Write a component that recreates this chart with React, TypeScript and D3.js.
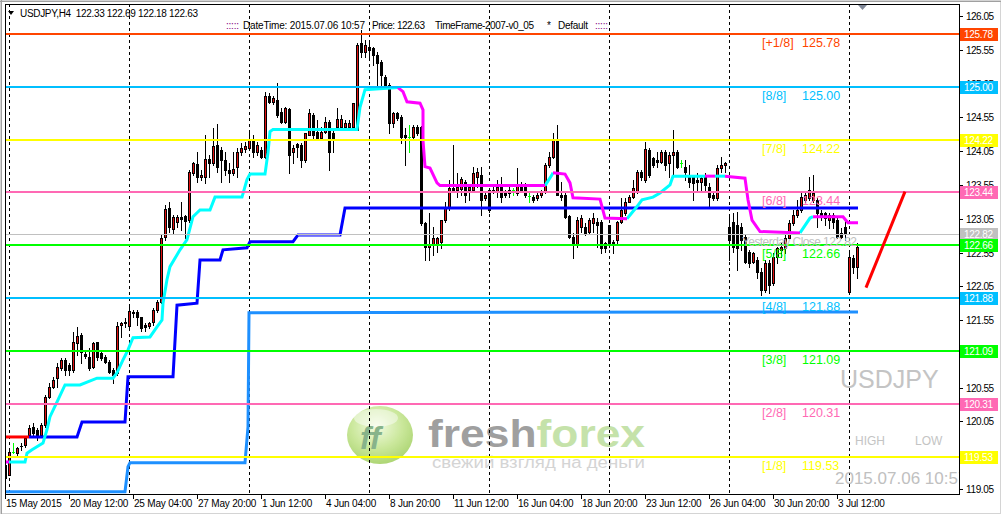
import React from "react";
import * as d3 from "d3";

// USDJPY H4, bar 0 = 15 May 2015 20:00, bar 213 = 6 Jul 2015 08:00
// [open, high, low, close]
const bars: [number, number, number, number][] = [
  [119.41, 119.48, 119.19, 119.22], [119.26, 119.66, 119.25, 119.6], [119.6, 119.73, 119.58, 119.6], [119.59, 119.67, 119.53, 119.66],
  [119.68, 119.73, 119.63, 119.69], [119.7, 119.82, 119.67, 119.81], [119.85, 119.99, 119.82, 119.95], [119.97, 120.03, 119.85, 119.88],
  [119.93, 119.96, 119.78, 119.85], [119.85, 120.03, 119.82, 119.99], [119.99, 120.44, 119.97, 120.41], [120.41, 120.62, 120.4, 120.56],
  [120.56, 120.71, 120.55, 120.67], [120.7, 120.92, 120.56, 120.86], [120.84, 120.99, 120.81, 120.96], [120.96, 120.99, 120.74, 120.81],
  [120.89, 120.92, 120.74, 120.81], [120.81, 121.38, 120.78, 121.23], [121.21, 121.45, 121.03, 121.32], [121.33, 121.36, 120.92, 121.08],
  [121.05, 121.11, 120.99, 121.02], [121.01, 121.14, 120.81, 120.84], [120.86, 121.23, 120.84, 121.21], [121.23, 121.23, 120.96, 121.01],
  [121.07, 121.11, 120.96, 120.99], [121.01, 121.04, 120.92, 120.93], [120.93, 120.96, 120.77, 120.78], [120.81, 120.84, 120.62, 120.74],
  [120.77, 121.52, 120.74, 121.46], [121.48, 121.52, 121.3, 121.51], [121.51, 121.58, 121.45, 121.52], [121.46, 121.75, 121.45, 121.69],
  [121.67, 121.7, 121.6, 121.65], [121.67, 121.7, 121.48, 121.6], [121.6, 121.6, 121.39, 121.43], [121.48, 121.51, 121.39, 121.45],
  [121.46, 121.52, 121.43, 121.51], [121.52, 121.73, 121.48, 121.7], [121.7, 121.85, 121.67, 121.82], [121.82, 122.81, 121.81, 122.77],
  [122.78, 123.26, 122.74, 123.2], [123.21, 123.3, 122.86, 122.92], [122.9, 123.11, 122.84, 123.08], [123.0, 123.11, 122.93, 123.08],
  [123.08, 123.29, 122.89, 123.04], [123.09, 123.11, 122.77, 123.02], [123.03, 123.77, 123.0, 123.74], [123.73, 123.89, 123.7, 123.88],
  [123.86, 124.04, 123.6, 123.66], [123.66, 123.77, 123.63, 123.69], [123.66, 124.29, 123.58, 123.94], [123.94, 123.99, 123.67, 123.88],
  [123.88, 124.39, 123.85, 124.13], [124.14, 124.45, 123.74, 123.82], [124.07, 124.11, 123.6, 123.92], [123.92, 124.03, 123.7, 123.77],
  [123.77, 123.88, 123.6, 123.73], [123.72, 124.03, 123.7, 123.78], [123.82, 124.1, 123.66, 124.03], [124.03, 124.17, 124.0, 124.1],
  [124.08, 124.19, 124.04, 124.13], [124.1, 124.37, 124.07, 124.22], [124.22, 124.29, 123.97, 124.03], [124.04, 124.19, 124.0, 124.14],
  [124.07, 124.11, 123.95, 123.97], [123.97, 124.93, 123.95, 124.87], [124.87, 124.91, 124.76, 124.78], [124.78, 124.87, 124.75, 124.84],
  [124.81, 125.06, 124.56, 124.59], [124.63, 124.69, 124.47, 124.48], [124.48, 124.71, 124.47, 124.69], [124.68, 124.69, 123.73, 123.99],
  [124.03, 124.14, 123.88, 124.1], [124.16, 124.17, 123.97, 124.11], [124.14, 124.17, 123.82, 123.92], [123.92, 124.32, 123.89, 124.32],
  [124.29, 124.68, 124.29, 124.62], [124.59, 124.62, 124.22, 124.29], [124.33, 124.51, 124.22, 124.25], [124.25, 124.41, 124.22, 124.33],
  [124.34, 124.56, 124.32, 124.48], [124.48, 124.51, 123.77, 124.04], [124.32, 124.37, 124.03, 124.25], [124.4, 124.69, 124.37, 124.53],
  [124.4, 124.59, 124.37, 124.53], [124.4, 124.51, 124.37, 124.47], [124.41, 124.51, 124.37, 124.47], [124.41, 124.76, 124.39, 124.76],
  [124.37, 125.65, 124.37, 125.62], [125.65, 125.84, 125.45, 125.51], [125.51, 125.7, 125.45, 125.62], [125.59, 125.7, 125.45, 125.55],
  [125.58, 125.59, 125.33, 125.48], [125.48, 125.51, 125.03, 125.36], [125.37, 125.4, 125.0, 125.18], [125.14, 125.18, 124.99, 125.0],
  [125.03, 125.06, 124.32, 124.47], [124.47, 124.63, 124.41, 124.62], [124.62, 124.63, 124.51, 124.54], [124.56, 124.59, 124.17, 124.26],
  [124.29, 124.39, 123.85, 124.26], [124.26, 124.44, 124.04, 124.26], [124.26, 124.44, 124.22, 124.4], [124.41, 124.44, 124.29, 124.32],
  [124.41, 124.42, 122.95, 122.99], [122.99, 123.0, 122.44, 122.63], [122.63, 123.14, 122.44, 122.67], [122.66, 122.93, 122.52, 122.77],
  [122.66, 122.78, 122.56, 122.77], [122.71, 123.03, 122.62, 123.03], [123.03, 123.29, 123.0, 123.23], [123.23, 123.63, 123.18, 123.51],
  [123.51, 124.14, 123.45, 123.48], [123.48, 123.73, 123.37, 123.52], [123.49, 123.66, 123.4, 123.64], [123.6, 123.63, 123.3, 123.4],
  [123.48, 123.54, 123.33, 123.52], [123.48, 123.82, 123.45, 123.73], [123.67, 123.8, 123.52, 123.74], [123.7, 123.82, 123.11, 123.33],
  [123.36, 123.43, 123.33, 123.4], [123.48, 123.51, 123.15, 123.18], [123.45, 123.55, 123.43, 123.48], [123.45, 123.63, 123.37, 123.52],
  [123.52, 123.66, 123.3, 123.37], [123.43, 123.48, 123.37, 123.4], [123.43, 123.52, 123.37, 123.48], [123.47, 123.5, 123.4, 123.47],
  [123.43, 123.8, 123.4, 123.55], [123.55, 123.6, 123.45, 123.48], [123.55, 123.58, 123.37, 123.4], [123.39, 123.45, 123.29, 123.39],
  [123.37, 123.4, 123.3, 123.33], [123.36, 123.43, 123.33, 123.4], [123.4, 123.48, 123.37, 123.45], [123.45, 123.88, 123.43, 123.85],
  [123.85, 124.03, 123.82, 123.97], [123.97, 124.32, 123.95, 124.22], [124.22, 124.44, 123.4, 123.4], [123.4, 123.6, 123.33, 123.37],
  [123.4, 123.43, 123.06, 123.08], [123.09, 123.11, 122.77, 122.78], [122.78, 122.84, 122.47, 122.66], [122.66, 123.08, 122.63, 123.03],
  [122.93, 123.11, 122.86, 123.06], [122.93, 122.99, 122.81, 122.84], [122.86, 123.06, 122.84, 123.03], [122.99, 123.14, 122.86, 123.06],
  [123.0, 123.06, 122.63, 122.96], [123.0, 123.03, 122.55, 122.62], [122.69, 122.71, 122.56, 122.62], [122.95, 122.96, 122.63, 122.66],
  [122.71, 122.74, 122.55, 122.69], [122.74, 123.02, 122.69, 123.0], [123.0, 123.36, 122.99, 123.18], [123.14, 123.36, 123.11, 123.3],
  [123.3, 123.4, 123.29, 123.37], [123.37, 123.63, 123.36, 123.51], [123.45, 123.77, 123.43, 123.74], [123.74, 123.77, 123.63, 123.66],
  [123.63, 124.19, 123.6, 124.08], [124.07, 124.1, 123.67, 123.7], [123.95, 123.97, 123.82, 123.85], [123.92, 124.03, 123.82, 123.89],
  [123.89, 124.07, 123.88, 124.04], [124.04, 124.07, 123.77, 123.85], [123.88, 124.03, 123.67, 124.0], [124.0, 124.37, 123.67, 124.04],
  [124.03, 124.07, 123.8, 123.82], [123.88, 123.92, 123.82, 123.88], [123.82, 123.92, 123.63, 123.74], [123.7, 123.85, 123.52, 123.6],
  [123.67, 123.7, 123.33, 123.58], [123.62, 123.73, 123.45, 123.6], [123.6, 123.7, 123.45, 123.65], [123.67, 123.73, 123.48, 123.55],
  [123.52, 123.58, 123.23, 123.37], [123.4, 123.45, 123.33, 123.36], [123.36, 123.85, 123.33, 123.8], [123.8, 123.97, 123.74, 123.85],
  [123.85, 123.89, 123.74, 123.88], [122.93, 123.08, 122.44, 122.74], [123.0, 123.14, 122.56, 122.63], [122.96, 123.15, 122.29, 122.62],
  [122.93, 122.99, 122.59, 122.74], [122.78, 122.81, 122.4, 122.41], [122.56, 122.59, 122.34, 122.4], [122.41, 122.56, 122.4, 122.55],
  [122.44, 122.49, 122.17, 122.26], [122.26, 122.32, 121.92, 122.0], [122.0, 122.44, 121.97, 122.4], [122.4, 122.44, 121.95, 122.07],
  [122.1, 122.55, 122.07, 122.49], [122.49, 122.63, 122.4, 122.62], [122.59, 122.69, 122.49, 122.63], [122.62, 122.81, 122.55, 122.77],
  [122.77, 123.03, 122.76, 122.99], [122.99, 123.18, 122.96, 123.11], [123.11, 123.33, 123.08, 123.18], [123.18, 123.43, 123.15, 123.37],
  [123.33, 123.43, 123.3, 123.4], [123.36, 123.67, 123.33, 123.48], [123.33, 123.7, 123.29, 123.43], [123.33, 123.36, 122.93, 123.14],
  [123.14, 123.18, 123.03, 123.08], [123.14, 123.15, 122.96, 123.06], [123.03, 123.14, 122.91, 123.11], [123.11, 123.14, 122.91, 123.0],
  [123.03, 123.06, 122.77, 122.78], [122.84, 122.91, 122.77, 122.78], [122.93, 123.03, 122.74, 122.82], [121.97, 122.59, 121.95, 122.49],
  [122.47, 122.51, 122.25, 122.33], [122.33, 122.69, 122.18, 122.63],
];

// Murrey math levels
const levelNames = ["[+1/8]", "[8/8]", "[7/8]", "[6/8]", "[5/8]", "[4/8]", "[3/8]", "[2/8]", "[1/8]"];
const levelValues = [125.78, 125.0, 124.22, 123.44, 122.66, 121.88, 121.09, 120.31, 119.53];
const levelColors = ["#FF4500", "#00BFFF", "#FFFF00", "#FF69B4", "#00FF00", "#00BFFF", "#00FF00", "#FF69B4", "#FFFF00"];
const yesterdayClose = 122.82;

// indicator lines as [bar, price]
const blueStop: [number, number][] = [
  [6, 119.82], [18, 119.82], [19.25, 120.04], [30, 120.04], [30.75, 120.71], [42, 120.71], [43, 121.77], [48, 121.8],
  [48.75, 122.44], [53.75, 122.44], [54.5, 122.59], [60.5, 122.62], [61.25, 122.71], [72, 122.71], [73.25, 122.81],
  [83.75, 122.81], [85, 123.21], [213.25, 123.21],
];
const redStop: [number, number][] = [[0, 119.82], [6, 119.82]];
const thinStop: [number, number][] = [[73.25, 122.81], [83.75, 122.81]];
const lowStop: [number, number][] = [
  [0, 119.01], [30, 119.01], [30.75, 119.38], [31.25, 119.44], [60, 119.44], [60.75, 119.97], [61, 121.66], [213.25, 121.67],
];
const trendUp: [number, number][][] = [
  [[1, 119.45], [5, 119.45], [5.5, 119.58], [6.75, 119.63], [9.5, 119.73], [10.5, 119.93], [11.25, 120.12], [13.25, 120.37],
   [15, 120.59], [18.75, 120.59], [23, 120.69], [27, 120.69], [28, 120.77], [29.5, 120.96], [30.75, 121.11], [32, 121.29],
   [36.25, 121.3], [38, 121.45], [39.25, 121.55], [39.5, 121.8], [40.5, 122.15], [41.25, 122.34], [43.75, 122.59],
   [45.5, 122.74], [47, 123.08], [48.75, 123.18], [51.25, 123.18], [52.5, 123.37], [59.25, 123.37], [60.5, 123.63],
   [61.25, 123.71], [65, 123.71], [65.75, 124.03], [66.25, 124.34], [67, 124.37], [88, 124.37], [88.75, 124.7],
   [90, 124.96], [98.25, 124.99]],
  [[135, 123.54], [136.75, 123.7], [137, 123.73]],
  [[155.5, 123.05], [158, 123.23], [159.25, 123.33], [162, 123.37], [163.75, 123.43], [166.25, 123.55], [167, 123.68], [175, 123.68]],
  [[177.5, 123.68], [180, 123.68]],
  [[198.75, 122.84], [201.25, 123.06], [202, 123.08]],
];
const trendDown: [number, number][][] = [
  [[0, 119.45], [1, 119.45]],
  [[98.25, 124.99], [99.5, 124.93], [100.5, 124.78], [103.75, 124.76], [104.5, 124.66], [104.5, 124.21], [105, 123.82],
   [106.25, 123.8], [108, 123.58], [108.75, 123.54], [135, 123.54]],
  [[137, 123.73], [140, 123.71], [141.25, 123.58], [142, 123.36], [148.75, 123.34], [150, 123.06], [155.5, 123.05]],
  [[175, 123.68], [177.5, 123.68]],
  [[180, 123.68], [185, 123.65], [185.75, 123.33], [186.75, 123.03], [188.75, 122.86], [198.75, 122.84]],
  [[202, 123.08], [209.5, 123.08], [210.75, 122.99], [213.25, 122.99]],
];
const trendLine: [number, number][] = [[215.25, 122.03], [225, 123.45]];

// axes
const timeLabels = [
  "15 May 2015", "20 May 12:00", "25 May 04:00", "27 May 20:00", "1 Jun 12:00", "4 Jun 04:00", "8 Jun 20:00",
  "11 Jun 12:00", "16 Jun 04:00", "18 Jun 20:00", "23 Jun 12:00", "26 Jun 04:00", "30 Jun 20:00", "3 Jul 12:00",
];
const weekStarts = [1, 31, 61, 91, 121, 151, 181, 211];
const priceTicks = [126.05, 125.55, 125.05, 124.55, 124.05, 123.55, 123.05, 122.55, 122.05, 121.55, 121.05, 120.55, 120.05, 119.55, 119.05];

const W = 1001;
const H = 514;
const P = { left: 5, top: 4, right: 959, bottom: 494 };
const UI = "'Liberation Sans', Arial, sans-serif";
const ARIAL = "'Liberation Sans', Arial, sans-serif";

export default function App() {
  const x = d3.scaleLinear().domain([0, 213]).range([5, 857]);
  const y = d3.scaleLinear().domain([119.05, 126.05]).range([489, 16]);
  const line = d3.line<[number, number]>().x((d) => x(d[0])).y((d) => y(d[1]));
  const py = (v: number) => Math.round(y(v));
  const last = bars[bars.length - 1];

  return (
    <svg width={W} height={H} style={{ position: "absolute", left: 0, top: 0, display: "block" }}>
      <defs>
        <clipPath id="plot">
          <rect x={P.left} y={P.top} width={P.right - P.left} height={P.bottom - P.top} />
        </clipPath>
        <radialGradient id="ball" cx="45%" cy="35%" r="70%">
          <stop offset="0%" stopColor="#eef9d8" />
          <stop offset="55%" stopColor="#b9e07a" />
          <stop offset="100%" stopColor="#8cc43e" />
        </radialGradient>
      </defs>
      <rect width={W} height={H} fill="#ffffff" />
      {/* window frame */}
      <rect x={0.5} y={0.5} width={W - 1} height={H - 1} fill="none" stroke="#d4d4d4" strokeWidth={1} />
      <line x1={0} y1={1.5} x2={W} y2={1.5} stroke="#a0a0a0" />
      <line x1={1.5} y1={0} x2={1.5} y2={H} stroke="#a0a0a0" />

      <g clipPath="url(#plot)">
        {/* logo watermark */}
        <g opacity={0.75}>
          <ellipse cx={380} cy={435} rx={33} ry={29} fill="url(#ball)" />
          <ellipse cx={376} cy={418} rx={22} ry={9} fill="#ffffff" opacity={0.45} />
          <text x={360} y={449} fontFamily={ARIAL} fontWeight="bold" fontStyle="italic" fontSize={32} fill="#5f9a63">ff</text>
          <text x={428} y={447} fontFamily={ARIAL} fontWeight="bold" fontSize={39} textLength={217} lengthAdjust="spacingAndGlyphs">
            <tspan fill="#808080">fresh</tspan>
            <tspan fill="#b2d98e">forex</tspan>
          </text>
          <text x={432} y={468} fontFamily={ARIAL} fontSize={16} fill="#c6c6c6" textLength={213} lengthAdjust="spacingAndGlyphs">
            свежий взгляд на деньги
          </text>
        </g>

        {/* period separators */}
        {weekStarts.map((b) => (
          <line key={b} x1={x(b) + 0.5} x2={x(b) + 0.5} y1={P.top} y2={P.bottom} stroke="#000" strokeDasharray="3,3" />
        ))}

        {/* watermark texts */}
        <text x={840} y={388} fontFamily={ARIAL} fontSize={25} fill="#c4c4c4">USDJPY</text>
        <text x={855} y={445} fontFamily={ARIAL} fontSize={12} fill="#c4c4c4">HIGH</text>
        <text x={915} y={445} fontFamily={ARIAL} fontSize={12} fill="#c4c4c4">LOW</text>
        <text x={835} y={484} fontFamily={ARIAL} fontSize={17} fill="#c0c0c0">2015.07.06 10:57</text>

        {/* candles */}
        <g shapeRendering="crispEdges">
          {bars.map(([o, h, l, c], i) => {
            const cx = Math.round(x(i));
            const yh = py(h);
            const yl = py(l);
            if (o === c) {
              const yo = py(o);
              return (
                <g key={i} fill="#00FF00">
                  <rect x={cx} y={yh} width={1} height={yl - yh + 1} />
                  <rect x={cx - 1} y={yo} width={3} height={1} />
                </g>
              );
            }
            const yt = py(Math.max(o, c));
            const yb = py(Math.min(o, c));
            return (
              <g key={i}>
                <rect x={cx} y={yh} width={1} height={yl - yh + 1} fill="#000" />
                <rect x={cx - 1} y={yt} width={3} height={Math.max(1, yb - yt + 1)} fill="#000" />
                {c > o && yb - yt > 1 && <rect x={cx} y={yt + 1} width={1} height={yb - yt - 1} fill="#e01010" />}
              </g>
            );
          })}
        </g>

        {/* indicator lines */}
        <path d={line(lowStop) ?? ""} fill="none" stroke="#1E90FF" strokeWidth={3} />
        <path d={line(blueStop) ?? ""} fill="none" stroke="#0000FF" strokeWidth={3} />
        <path d={line(thinStop) ?? ""} fill="none" stroke="#ffffff" strokeWidth={1} />
        <path d={line(redStop) ?? ""} fill="none" stroke="#FF0000" strokeWidth={3} />
        {trendUp.map((s, k) => (
          <path key={"u" + k} d={line(s) ?? ""} fill="none" stroke="#00FFFF" strokeWidth={3} />
        ))}
        {trendDown.map((s, k) => (
          <path key={"d" + k} d={line(s) ?? ""} fill="none" stroke="#FF00FF" strokeWidth={3} />
        ))}

        {/* levels */}
        <line x1={P.left} x2={P.right} y1={py(yesterdayClose) + 0.5} y2={py(yesterdayClose) + 0.5} stroke="#c0c0c0" />
        {levelValues.map((v, k) => (
          <line key={k} x1={P.left} x2={P.right} y1={py(v)} y2={py(v)} stroke={levelColors[k]} strokeWidth={2} />
        ))}
        {levelValues.map((v, k) => (
          <g key={"t" + k} fontFamily={ARIAL} fontSize={12.5} fill={levelColors[k]}>
            <text x={762} y={py(v) + 13}>{levelNames[k]}</text>
            <text x={802} y={py(v) + 13}>{v.toFixed(2)}</text>
          </g>
        ))}
        <text x={742} y={py(yesterdayClose) + 12} fontFamily={ARIAL} fontSize={12} fill="#c0c0c0" textLength={115}>
          Yesterday Close {yesterdayClose.toFixed(2)}
        </text>

        <path d={line(trendLine) ?? ""} fill="none" stroke="#FF0000" strokeWidth={3} />

        {/* header */}
        <path d="M8,11 L14,11 L11,15 Z" fill="#000" />
        <text x={20} y={17} fontFamily={UI} fontSize={10} fill="#000" textLength={178} style={{ whiteSpace: "pre" }}>
          {"USDJPY,H4  " + last.map((v) => v.toFixed(2)).join(" ")}
        </text>
        <g fontFamily={UI} fontSize={10} fill="#000">
          <text x={226} y={29} fill="#800080" textLength={13}>:::::</text>
          <text x={243} y={29} textLength={122}>DateTime: 2015.07.06 10:57</text>
          <text x={372} y={29} textLength={53}>Price: {last[3].toFixed(2)}</text>
          <text x={435} y={29} textLength={99}>TimeFrame-2007-v0_05</text>
          <text x={547} y={29}>*</text>
          <text x={558} y={29} textLength={30}>Default</text>
          <text x={595} y={29} fill="#800080" textLength={13}>:::::</text>
        </g>
        <path d="M858,5 L867,5 L862.5,10 Z" fill="#808898" />
      </g>

      {/* plot frame */}
      <rect x={P.left + 0.5} y={P.top + 0.5} width={P.right - P.left} height={P.bottom - P.top} fill="none" stroke="#000" />

      {/* price axis */}
      <g fontFamily={UI} fontSize={10} fill="#000">
        {priceTicks.map((t) => (
          <g key={t}>
            <line x1={P.right} x2={P.right + 4} y1={py(t) + 0.5} y2={py(t) + 0.5} stroke="#000" />
            <text x={966} y={py(t) + 4} textLength={28}>{t.toFixed(2)}</text>
          </g>
        ))}
      </g>
      <g fontFamily={UI} fontSize={10}>
        <rect x={960} y={py(yesterdayClose) - 6} width={38} height={13} fill="#c0c0c0" />
        <text x={964} y={py(yesterdayClose) + 4} fill="#fff" textLength={29}>{yesterdayClose.toFixed(2)}</text>
        {levelValues.map((v, k) => (
          <g key={k}>
            <rect x={960} y={py(v) - 6} width={38} height={13} fill={levelColors[k]} />
            <text x={964} y={py(v) + 4} fill="#fff" textLength={29}>{v.toFixed(2)}</text>
          </g>
        ))}
      </g>

      {/* time axis */}
      <g fontFamily={UI} fontSize={10} fill="#000">
        {timeLabels.map((t, k) => {
          const tx = Math.round(x(k * 16));
          return (
            <g key={t}>
              <line x1={tx + 0.5} x2={tx + 0.5} y1={P.bottom} y2={P.bottom + 5} stroke="#000" />
              <text x={tx + 1} y={507} letterSpacing={-0.2}>{t}</text>
            </g>
          );
        })}
      </g>
    </svg>
  );
}
